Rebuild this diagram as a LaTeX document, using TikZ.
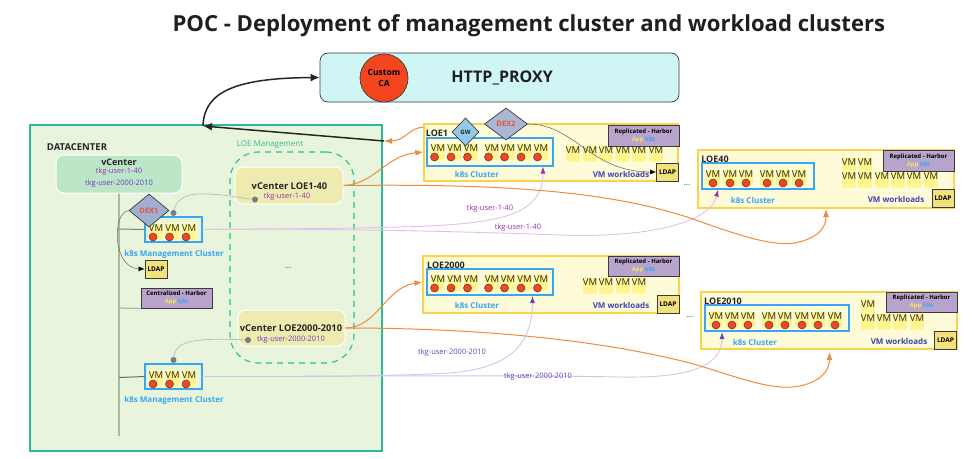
\documentclass[tikz,border=0pt]{standalone}
\usepackage{fontspec}
\setmainfont{Open Sans}
\usetikzlibrary{positioning}
\usetikzlibrary{calc}
\usetikzlibrary{arrows.meta}
\usetikzlibrary{shapes.geometric}

\definecolor{proxyfill}{HTML}{CFF5F5}
\definecolor{caRed}{HTML}{F4451F}
\definecolor{dcfill}{HTML}{E8F5DC}
\definecolor{dcline}{HTML}{2DB89A}
\definecolor{vcfill}{HTML}{BBE6C8}
\definecolor{loefill}{HTML}{EDEBB0}
\definecolor{vmyellow}{HTML}{FFF58C}
\definecolor{siteyellow}{HTML}{FEFBD8}
\definecolor{siteline}{HTML}{FBD34A}
\definecolor{k8sblue}{HTML}{3BA5F0}
\definecolor{ldapfill}{HTML}{F3E17C}
\definecolor{harborfill}{HTML}{B8A3CC}
\definecolor{appyellow}{HTML}{F5E555}
\definecolor{dexfill}{HTML}{9FAFD0}
\definecolor{dexred}{HTML}{EE5038}
\definecolor{gwfill}{HTML}{93C9E8}
\definecolor{trunk}{HTML}{A9B8A0}
\definecolor{dotgrey}{HTML}{7A7A80}
\definecolor{orangeline}{HTML}{F08A3C}
\definecolor{pinkline}{HTML}{E3C0EA}
\definecolor{lavline}{HTML}{D2C6E8}
\definecolor{tkgpurple}{HTML}{9B30B0}
\definecolor{tkgviolet}{HTML}{6B3FC0}
\definecolor{wlindigo}{HTML}{4040B0}
\definecolor{inkdark}{HTML}{3A3A3A}

\newcommand{\fs}[1]{\fontsize{#1}{#1}\selectfont}
\newcommand{\vmpod}[4]{
  \node (#1) [vmbox] at (#2,#3+3.5) {VM};
  \node (#1dot) [vmdot] at (#2+#4,#3+9) {};
}
\newcommand{\vmonly}[3]{
  \node (#1) [vmbox] at (#2,#3+3.5) {VM};
}
\newcommand{\harborapps}{{\color{appyellow}App} {\color{k8sblue}k8s}}

\begin{document}
\begin{tikzpicture}[
  x=1pt,y=-1pt,
  vmbox/.style={fill=vmyellow,draw=white,line width=0.5pt,rounded corners=1.5pt,minimum width=15pt,
    inner xsep=0pt,inner ysep=1pt,text height=7pt,text depth=8pt,text=black!85,font=\fs{9.5}},
  vmdot/.style={circle,fill=caRed,draw=black!75,line width=0.5pt,minimum size=8pt,inner sep=0pt},
  sitebox/.style={rectangle,fill=siteyellow,draw=siteline,line width=1.3pt,inner sep=0pt},
  clusterbox/.style={rectangle,draw=k8sblue,line width=1.2pt,inner sep=0pt},
  ldapbox/.style={rectangle,fill=ldapfill,draw=inkdark,line width=0.9pt,inner sep=0pt,font=\bfseries\fs{6.5}},
  harborbox/.style={rectangle,fill=harborfill,draw=inkdark,line width=0.9pt,inner sep=0pt,align=center,
    font=\bfseries\fs{6}},
  dexnode/.style={diamond,fill=dexfill,draw=inkdark,line width=0.7pt,inner sep=0pt,text=dexred,
    font=\bfseries\fs{7.5}},
  vcnode/.style={rectangle,rounded corners=8pt,draw=white,line width=1pt,inner sep=0pt},
  sitelabel/.style={font=\bfseries\fs{9},text=black!85},
  k8slabel/.style={font=\bfseries\fs{8},text=k8sblue},
  wllabel/.style={font=\bfseries\fs{8},text=wlindigo},
  tkg1/.style={font=\fs{7.5},text=tkgpurple},
  tkg2/.style={font=\fs{7.5},text=tkgviolet},
  greydot/.style={circle,fill=dotgrey,minimum size=6pt,inner sep=0pt},
  orangearrow/.style={draw=orangeline,line width=1pt,-{Latex[length=8pt,width=6pt]}},
  pinkarrow/.style={draw=pinkline,line width=0.9pt,-{Latex[length=7pt,width=5pt,color=tkgpurple]}},
  lavarrow/.style={draw=lavline,line width=0.9pt,-{Latex[length=7pt,width=5pt,color=tkgviolet]}},
  blackarrow/.style={draw=black!85,line width=1.5pt,-{Latex[length=9pt,width=8pt]}},
  greyline/.style={draw=gray!55,line width=0.7pt},
  ]
  \useasboundingbox (0,0) rectangle (974,458);
  \fill[white] (0,0) rectangle (974,458);

  \node (title) [text=black!88] at (526,26) {\bfseries\fs{22.1} POC - Deployment of management cluster and workload clusters};

  \node (proxy) [rectangle,rounded corners=8pt,fill=proxyfill,draw=inkdark,line width=0.7pt,minimum width=359pt,minimum height=49pt,inner sep=0pt] at (499.5,77.5) {};
  \node (proxytxt) [text=black!88] at (500,78) {\bfseries\fs{16} HTTP\_PROXY};
  \node (ca) [circle,fill=caRed,draw=inkdark,line width=0.7pt,minimum size=48pt,inner sep=0pt,align=center,font=\bfseries\fs{8.5}] at (384,78) {Custom\\[3pt]CA};

  \node (dc) [rectangle,fill=dcfill,draw=dcline,line width=1.6pt,minimum width=352pt,minimum height=326pt,inner sep=0pt] at (206,288) {};
  \node (dclabel) [font=\bfseries\fs{9.5},text=black!85] at (77,147) {DATACENTER};

  \coordinate (trunktop) at (119,193);
  \coordinate (trunkend) at (119,436);
  \draw[draw=trunk,line width=1.5pt] (trunktop) -- (trunkend);

  \node (vc) [vcnode,fill=vcfill,minimum width=126pt,minimum height=38pt] at (119,174) {};
  \node (vctxt) [font=\bfseries\fs{9},text=black!85] at (119,162.5) {vCenter};
  \node (vcu1) [tkg1] at (119,172) {tkg-user-1-40};
  \node (vcu2) [tkg2] at (119,184) {tkg-user-2000-2010};

  \node (loetxt) [font=\fs{8},text=dcline] at (270,145) {LOE Management};
  \node (loemgmt) [rectangle,rounded corners=28pt,draw=dcline!85!green,dashed,dash pattern=on 6pt off 5pt,line width=1.1pt,minimum width=124pt,minimum height=211pt,inner sep=0pt] at (292,257.5) {};
  \node (loedots) [font=\bfseries\fs{8},text=dcline] at (288,268) {...};

  \node (vc1) [vcnode,fill=loefill,minimum width=108pt,minimum height=37pt] at (289,185.5) {};
  \node (vc1txt) [font=\bfseries\fs{9.3},text=black!85] at (289.5,186) {vCenter LOE1-40};
  \node (vc1dot) [greydot] at (255,199.5) {};
  \node (vc1u) [tkg1] at (287,197) {tkg-user-1-40};

  \node (vc2) [vcnode,fill=loefill,minimum width=107pt,minimum height=36pt] at (291.5,328) {};
  \node (vc2txt) [font=\bfseries\fs{9.3},text=black!85] at (291,328) {vCenter LOE2000-2010};
  \node (vc2dot) [greydot] at (248,340) {};
  \node (vc2u) [tkg2] at (291,340) {tkg-user-2000-2010};

  \node (mc1) [clusterbox,minimum width=57pt,minimum height=25pt] at (173.5,229.5) {};
  \foreach \vx [count=\n] in {156,172.5,189} {\vmpod{p\n}{\vx}{228}{-3}}
  \node (mc1txt) [k8slabel] at (174,254) {k8s Management Cluster};
  \node (mc1dot) [greydot] at (173.5,213) {};
  \node (dex1) [dexnode,minimum width=40pt,minimum height=33pt] at (149,210.5) {DEX1};
  \node (ldap0) [ldapbox,minimum width=22pt,minimum height=18pt] at (156,269) {LDAP};
  \draw[draw=black!60,line width=0.5pt,-{Latex[length=6pt,width=5pt,color=black]}] (dex1.west) .. controls (112,212) and (112,268) .. (ldap0.west);

  \node (cenharbor) [harborbox,minimum width=71pt,minimum height=20pt] at (176.5,298) {Centralized - Harbor\\[2pt]\harborapps};
  \draw[draw=trunk,line width=1.2pt] (119,308) -- (cenharbor.south west);
  \draw[draw=trunk!70!black,line width=1pt] (119,229) -- (mc1.west);

  \node (mc2) [clusterbox,minimum width=57pt,minimum height=25pt] at (173.5,376.5) {};
  \foreach \vx [count=\n] in {156,172.5,189} {\vmpod{q\n}{\vx}{375}{-3}}
  \node (mc2txt) [k8slabel] at (174,400) {k8s Management Cluster};
  \node (mc2dot) [greydot] at (173.5,360) {};
  \draw[draw=trunk!60!black,line width=1pt] (119,377.5) -- (mc2.west);

  \draw[greyline] (mc1dot) .. controls (177,197) and (190,193) .. (205,194) .. controls (222,194) and (240,198) .. (vc1dot);
  \draw[greyline] (mc2dot) .. controls (176,340) and (195,338) .. (vc2dot);

  % LOE1
  \node (loe1) [sitebox,minimum width=254pt,minimum height=57pt] at (551,152.5) {};
  \node (k1) [clusterbox,minimum width=126pt,minimum height=28pt] at (490,152) {};
  \foreach \vx [count=\n] in {438,454.5,471,492,508,524.5,541} {\vmpod{a\n}{\vx}{148}{-3.5}}
  \foreach \vx [count=\n] in {573,590,606,623,639,656} {\vmonly{b\n}{\vx}{150}}
  \node (loe1txt) [sitelabel] at (437,133) {LOE1};
  \node (k1txt) [k8slabel] at (477,174) {k8s Cluster};
  \node (wl1txt) [wllabel] at (621,174) {VM workloads};
  \node (ldap1) [ldapbox,minimum width=22pt,minimum height=18pt] at (667.5,172) {LDAP};
  \node (har1) [harborbox,minimum width=71pt,minimum height=21pt] at (643.5,135.5) {Replicated - Harbor\\[2pt]\harborapps};
  \node (gw) [dexnode,fill=gwfill,text=black!85,font=\bfseries\fs{6},minimum width=27pt,minimum height=28pt] at (465.5,132) {GW};
  \node (dex2) [dexnode,fill=dexfill!90!white,minimum width=43pt,minimum height=32pt] at (506,124) {DEX2};
  \draw[draw=black!55,line width=0.6pt,-{Latex[length=6pt,width=5pt,color=black]}] (dex2.east) .. controls (575,124) and (590,172) .. (ldap1.west);

  % LOE40
  \node (loe40) [sitebox,minimum width=256pt,minimum height=58pt] at (826,179) {};
  \node (k40) [clusterbox,minimum width=112pt,minimum height=26pt] at (758,176) {};
  \foreach \vx [count=\n] in {713,730,746,767,783,799} {\vmpod{c\n}{\vx}{174}{0}}
  \foreach \vx [count=\n] in {849,865} {\vmonly{dt\n}{\vx}{162}}
  \foreach \vx [count=\n] in {849,865,882,898,914,931} {\vmonly{d\n}{\vx}{176}}
  \node (loe40txt) [sitelabel] at (715,159) {LOE40};
  \node (k40txt) [k8slabel] at (753,200) {k8s Cluster};
  \node (wl40txt) [wllabel] at (896,199) {VM workloads};
  \node (ldap40) [ldapbox,minimum width=22pt,minimum height=18pt] at (943,198) {LDAP};
  \node (har40) [harborbox,minimum width=71pt,minimum height=21pt] at (918.5,160.5) {Replicated - Harbor\\[2pt]\harborapps};

  % LOE2000
  \node (loe2000) [sitebox,minimum width=256pt,minimum height=57pt] at (551,284.5) {};
  \node (k2000) [clusterbox,minimum width=126pt,minimum height=26pt] at (490,282) {};
  \foreach \vx [count=\n] in {438,454.5,471,492,508,524.5,541} {\vmpod{e\n}{\vx}{279}{-3.5}}
  \foreach \vx [count=\n] in {590,606,623,639} {\vmonly{f\n}{\vx}{282}}
  \node (loe2000txt) [sitelabel] at (446,265) {LOE2000};
  \node (k2000txt) [k8slabel] at (477,305) {k8s Cluster};
  \node (wl2000txt) [wllabel] at (621,305) {VM workloads};
  \node (ldap2000) [ldapbox,minimum width=22pt,minimum height=18pt] at (668,304) {LDAP};
  \node (har2000) [harborbox,minimum width=71pt,minimum height=20pt] at (643.5,266) {Replicated - Harbor\\[2pt]\harborapps};

  % LOE2010
  \node (loe2010) [sitebox,minimum width=256pt,minimum height=57pt] at (829,320.5) {};
  \node (k2010) [clusterbox,minimum width=144pt,minimum height=26pt] at (777,318) {};
  \foreach \vx [count=\n] in {716,732,748,769,785,802,818,835} {\vmpod{g\n}{\vx}{316}{0}}
  \vmonly{ht1}{868}{304}
  \foreach \vx [count=\n] in {868,884,900,917} {\vmonly{h\n}{\vx}{318}}
  \node (loe2010txt) [sitelabel] at (723,301) {LOE2010};
  \node (k2010txt) [k8slabel] at (755,342) {k8s Cluster};
  \node (wl2010txt) [wllabel] at (899,341) {VM workloads};
  \node (ldap2010) [ldapbox,minimum width=22pt,minimum height=18pt] at (945.5,340.5) {LDAP};
  \node (har2010) [harborbox,minimum width=71pt,minimum height=20pt] at (921.5,302) {Replicated - Harbor\\[2pt]\harborapps};

  \node (dots40) [font=\bfseries\fs{8},text=k8sblue] at (687,185) {...};
  \node (dots2010) [font=\bfseries\fs{8},text=k8sblue] at (690,317) {...};

  \coordinate (dcin) at (203,126);
  \coordinate (dcout) at (384,141);
  \coordinate (tip40) at (826,209);
  \coordinate (tip2010) at (829.5,352);
  \coordinate (tipk1) at (543,166.5);
  \coordinate (tipk40) at (718,189.5);
  \coordinate (tipk2000) at (532.5,296);
  \coordinate (tipk2010) at (722,332);

  \draw[pinkarrow] (mc1.east) .. controls (300,229) and (380,228) .. (430,226) .. controls (500,222) and (543,215) .. (tipk1);
  \draw[pinkarrow] (mc1.east) .. controls (330,228) and (480,232) .. (560,235) .. controls (640,238) and (710,225) .. (tipk40);
  \draw[lavarrow] (mc2.east) .. controls (300,377) and (400,376) .. (450,373) .. controls (510,368) and (532,345) .. (tipk2000);
  \draw[lavarrow] (mc2.east) .. controls (400,376) and (520,375) .. (620,377) .. controls (680,378) and (722,370) .. (tipk2010);

  \node (lb1) [tkg1] at (490,209) {tkg-user-1-40};
  \node (lb2) [tkg1] at (518,228) {tkg-user-1-40};
  \node (lb3) [tkg2] at (452,353) {tkg-user-2000-2010};
  \node (lb4) [tkg2] at (538,377) {tkg-user-2000-2010};

  \draw[orangearrow] (vc1.east) .. controls (375,184) and (385,156) .. (loe1.west |- k1);
  \draw[orangearrow] (vc1.east) .. controls (480,184) and (600,188) .. (690,218) .. controls (730,232) and (770,247) .. (795,243) .. controls (818,238) and (826,228) .. (tip40);
  \draw[orangearrow] (vc2.east) .. controls (378,327) and (385,288) .. (loe2000.west |- k2000);
  \draw[orangearrow] (vc2.east) .. controls (480,328) and (600,340) .. (690,363) .. controls (730,374) and (770,392) .. (800,386) .. controls (822,381) and (829.5,370) .. (tip2010);
  \draw[orangearrow] ($(loe1.north west)+(0,4)$) .. controls (410,127) and (405,141) .. (dcout);

  \draw[blackarrow] (dcout) -- (dcin);
  \draw[blackarrow] (dcin) .. controls (204,92) and (235,78) .. (proxy.west);
\end{tikzpicture}
\end{document}
